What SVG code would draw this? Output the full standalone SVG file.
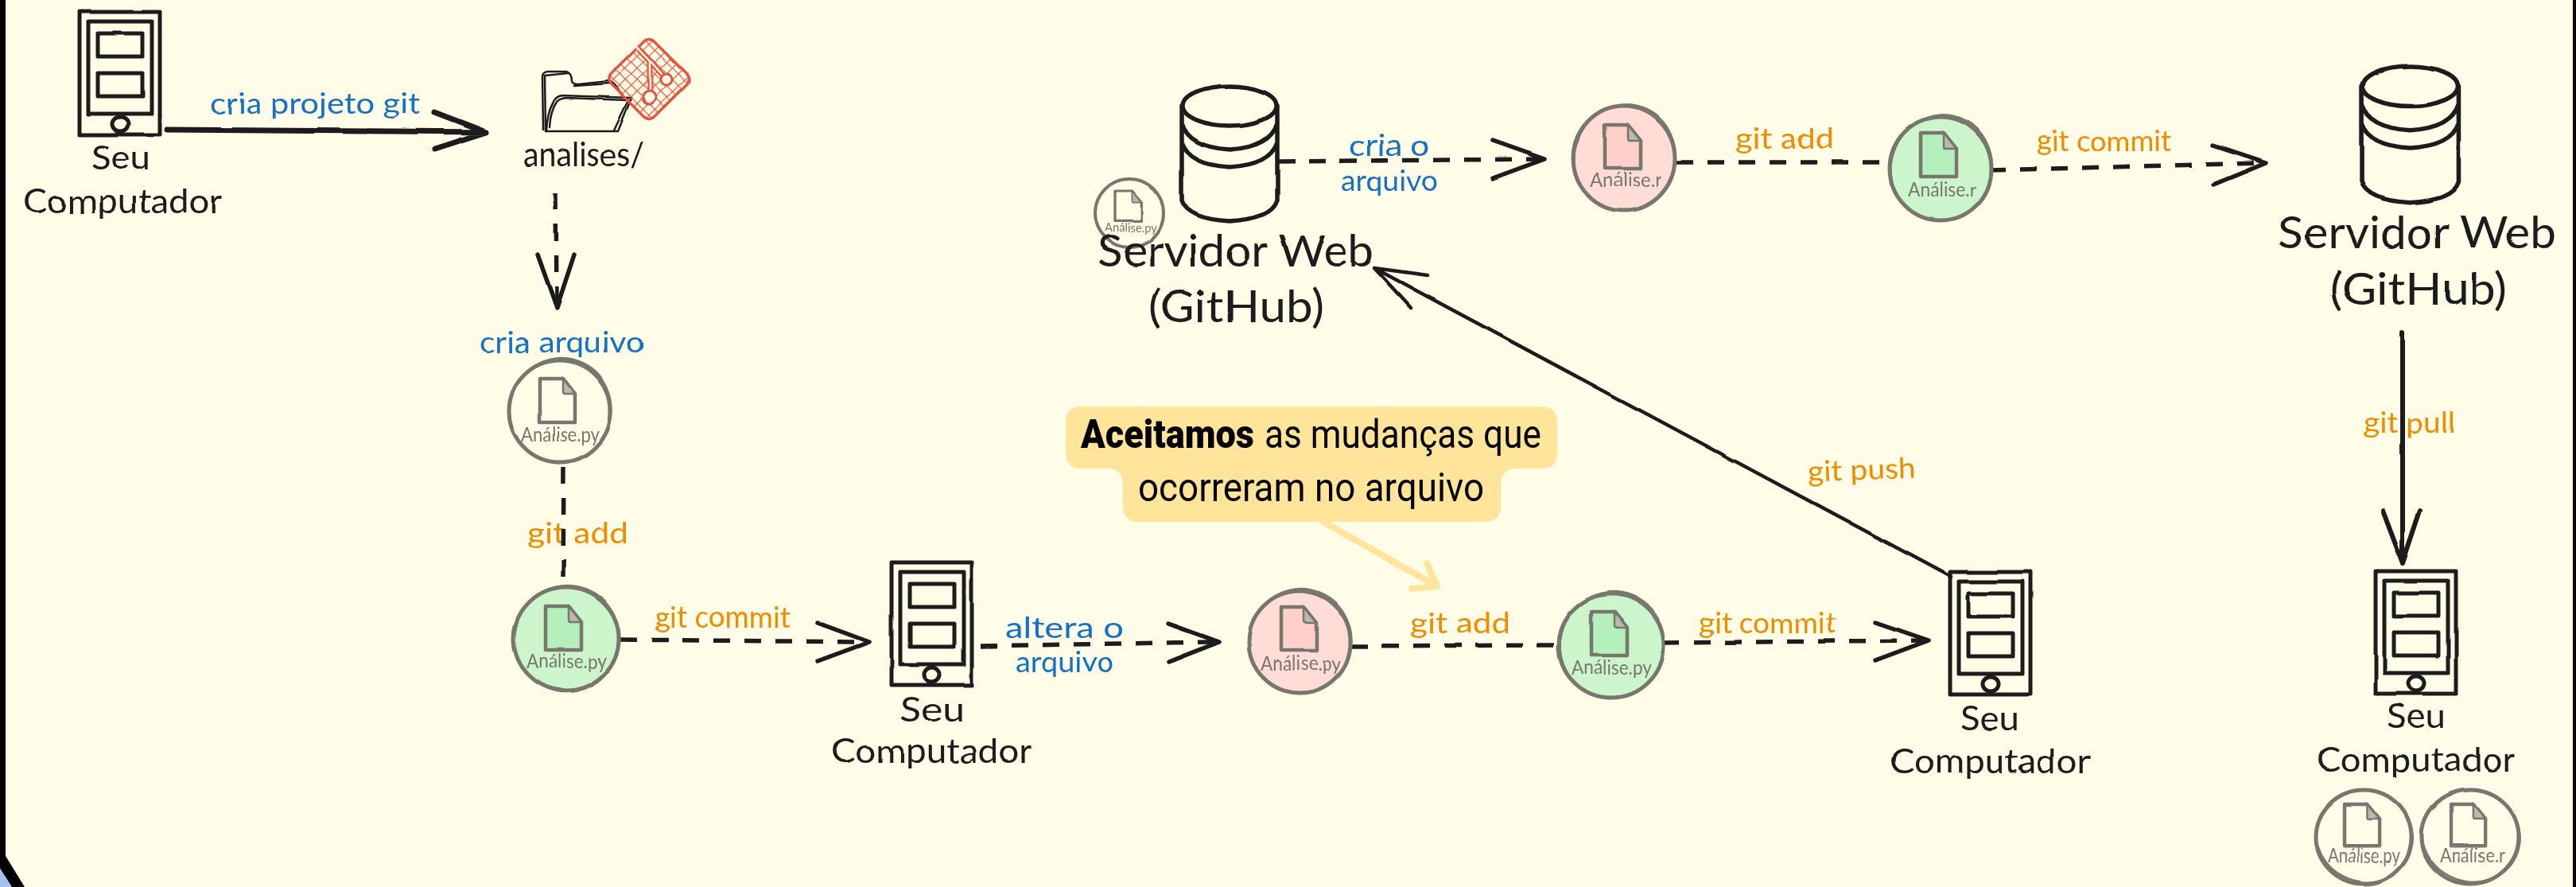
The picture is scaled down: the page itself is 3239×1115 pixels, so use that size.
<svg xmlns="http://www.w3.org/2000/svg" width="3239" height="1115" viewBox="0 0 3239 1115">
<style>
text{font-family:"Lato","Noto Sans",sans-serif}
.hand{fill:#1e1e1e;font-size:42px}
.big{fill:#1e1e1e;font-size:56px}
.blue{fill:#1971c2;font-size:36px}
.orange{fill:#f08c00;font-size:36px}
.fn{fill:#77776e;font-size:25px}
.note{font-family:"Roboto","Noto Sans",sans-serif;font-size:50px;fill:#000}
.ln{fill:none;stroke:#1e1e1e;stroke-linecap:round;stroke-linejoin:round}
.dash{stroke-width:5.5;stroke-dasharray:21 18;stroke-linecap:butt}
.head{stroke-width:5.5}
.ring{stroke:#77776e;stroke-width:5}
.ring2{fill:none;stroke:#77776e;stroke-width:2.5}
.gray{fill:none}
.green{fill:#cdf5cc}
.pink{fill:#ffdcd6}
.file{stroke:#77776e;stroke-width:4.5;stroke-linejoin:round}
.fnone{fill:none}
.fgreen{fill:#b5efbb}
.fpink{fill:#ffcfcc}
.fold{fill:#b9b9ae;stroke:#77776e;stroke-width:2.5}
.dev{fill:none;stroke:#1e1e1e;stroke-width:5;stroke-linejoin:round}
.db{fill:none;stroke:#1e1e1e;stroke-width:5.5;stroke-linecap:round;stroke-linejoin:round}
.folder{fill:none;stroke:#1e1e1e;stroke-width:2.5;stroke-linejoin:round;stroke-linecap:round}
</style>
<defs>
<filter id="sketch" filterUnits="userSpaceOnUse" x="0" y="0" width="3239" height="1115">
<feTurbulence type="fractalNoise" baseFrequency="0.015" numOctaves="2" seed="4" result="n"/>
<feDisplacementMap in="SourceGraphic" in2="n" scale="3" xChannelSelector="R" yChannelSelector="G" result="d"/>
<feGaussianBlur in="d" stdDeviation="0.7"/>
</filter>
<filter id="soft" filterUnits="userSpaceOnUse" x="0" y="0" width="3239" height="1115"><feGaussianBlur stdDeviation="0.6"/></filter>
<pattern id="grid" patternUnits="userSpaceOnUse" width="10.500" height="10.500"><path d="M10.500 0H0V10.500" fill="none" stroke="#e5533d" stroke-width="2.400"/></pattern>
<g id="computer">
<rect class="dev" x="0" y="0" width="101" height="154"/>
<rect class="dev" x="11" y="12" width="80" height="116"/>
<rect class="dev" x="23" y="27" width="56" height="29"/>
<rect class="dev" x="23" y="77" width="56" height="29"/>
<ellipse class="dev" cx="51" cy="141" rx="10" ry="9"/>
</g>
<g id="cyl">
<ellipse class="db" cx="61" cy="26" rx="59" ry="25"/>
<path class="db" d="M1 26V145Q8 168 61 171Q114 168 121 145V26M1 48Q10 78 61 81Q112 78 121 48M1 72Q10 100 61 103Q112 100 121 72"/>
</g>
<path id="filebody" d="M0 0H29L45 20V55H0Z"/>
<path id="filefold" d="M29 0L45 20H31Q29 20 29 17Z"/>
</defs>

<rect width="3239" height="1115" fill="#fffde8"/>
<rect x="0" y="0" width="7" height="1115" fill="#000"/>
<rect x="3235" y="0" width="4" height="1115" fill="#000"/>
<polygon points="0,1091 15,1115 0,1115" fill="#a5c0ee"/>
<polygon points="0,1076 7,1076 31,1115 15,1115 0,1091" fill="#000"/>

<g filter="url(#sketch)">
<g id="connectors">
<g id="c1">
<text class="blue" x="264" y="143" textLength="264" lengthAdjust="spacingAndGlyphs">cria projeto git</text>
<path class="ln" stroke-width="7" d="M210 163L611 166M546 141L611 166L546 187"/>
</g>
<g id="c2"><path class="ln dash" d="M699 243L700 380"/><path class="ln head" d="M676 320L700 387L722 320"/></g>
<g id="c3">
<text class="orange" x="663" y="683" textLength="127" lengthAdjust="spacingAndGlyphs">git add</text>
<path class="ln dash" d="M709 587L708 730"/>
</g>
<g id="c4">
<text class="orange" x="823" y="789" textLength="171" lengthAdjust="spacingAndGlyphs">git commit</text>
<path class="ln dash" d="M780 804L1085 807"/><path class="ln head" d="M1028 783L1093 807L1028 831"/>
</g>
<g id="c5">
<text class="blue" x="1264" y="802" textLength="149" lengthAdjust="spacingAndGlyphs">altera o</text>
<text class="blue" x="1277" y="845" textLength="124" lengthAdjust="spacingAndGlyphs">arquivo</text>
<path class="ln dash" d="M1233 812L1525 807"/><path class="ln head" d="M1469 784L1533 807L1469 832"/>
</g>
<g id="c6">
<text class="orange" x="1773" y="796" textLength="126" lengthAdjust="spacingAndGlyphs">git add</text>
<path class="ln dash" d="M1699 812L1960 811"/>
</g>
<g id="c7">
<text class="orange" x="2136" y="796" textLength="172" lengthAdjust="spacingAndGlyphs">git commit</text>
<path class="ln dash" d="M2091 808L2418 805"/><path class="ln head" d="M2358 782L2425 805L2358 830"/>
</g>
<g id="c8">
<text class="orange" x="2273" y="603" textLength="136" lengthAdjust="spacingAndGlyphs" transform="rotate(-2 2340 600)">git push</text>
<path class="ln" stroke-width="4.5" d="M2453 725L1728 337M1795 346L1728 337L1774 387"/>
</g>
<g id="c9">
<text class="blue" x="1696" y="196" textLength="101" lengthAdjust="spacingAndGlyphs">cria o</text>
<text class="blue" x="1686" y="240" textLength="122" lengthAdjust="spacingAndGlyphs">arquivo</text>
<path class="ln dash" d="M1607 203L1935 200"/><path class="ln head" d="M1877 177L1942 200L1877 224"/>
</g>
<g id="c10">
<text class="orange" x="2182" y="187" textLength="124" lengthAdjust="spacingAndGlyphs">git add</text>
<path class="ln dash" d="M2108 204L2374 204"/>
</g>
<g id="c11">
<text class="orange" x="2561" y="190" textLength="169" lengthAdjust="spacingAndGlyphs">git commit</text>
<path class="ln dash" d="M2501 214L2842 205"/><path class="ln head" d="M2783 183L2849 205L2783 232"/>
</g>
<g id="c12">
<text class="orange" x="2972" y="544" textLength="115" lengthAdjust="spacingAndGlyphs">git pull</text>
<path class="ln" stroke-width="6" d="M3021 418V708M2996 642L3021 708L3043 642"/>
</g>
<g id="c13">
<path fill="none" stroke="#ffe499" stroke-width="8" stroke-linecap="round" stroke-linejoin="round" d="M1664 656L1807 737M1794 708L1807 737L1775 740"/>
</g>
</g>

<g id="computer-1"><use href="#computer" x="100" y="15"/>
<text class="hand" x="115" y="213" textLength="74" lengthAdjust="spacingAndGlyphs">Seu</text>
<text class="hand" x="29" y="268" textLength="251" lengthAdjust="spacingAndGlyphs">Computador</text></g>

<g id="folder-analises">
<path class="folder" d="M683 163L682 97Q682 91 688 90L712 90Q719 92 719 102Q720 106 727 106L765 102Q772 103 780 117"/>
<path class="folder" d="M686 165L685 95L714 92M722 108L766 105"/>
<path class="folder" d="M687 165Q688 142 695 130Q698 121 707 120L794 123L777 165Z"/>
<path class="folder" d="M691 160Q692 140 700 128Q703 124 712 123L790 126L772 164"/>
<text class="hand" x="658" y="209" textLength="152" lengthAdjust="spacingAndGlyphs">analises/</text>
</g>

<g id="git-logo">
<g transform="translate(816 99.500) rotate(45)">
<rect x="-38" y="-38" width="76" height="76" rx="9" fill="url(#grid)" stroke="#e5533d" stroke-width="3.500"/>
</g>
<path fill="none" stroke="#e5533d" stroke-width="7" d="M803 62L817 77V123M818 77L838 100"/>
<path fill="none" stroke="#fffde8" stroke-width="2.500" d="M799 58L817 77V123M818 77L838 100"/>
<circle cx="816" cy="123" r="8" fill="#fffde8" stroke="#e5533d" stroke-width="3"/>
<circle cx="838" cy="100" r="7" fill="#fffde8" stroke="#e5533d" stroke-width="3"/>
</g>

<g id="file-1">
<ellipse class="ring gray" cx="704" cy="517" rx="64" ry="64"/><ellipse class="ring2" cx="705" cy="516" rx="64" ry="66" transform="rotate(20 705 516)"/>
<g transform="translate(678 476)"><use href="#filebody" class="file fnone"/><use href="#filefold" class="fold"/></g>
<text class="fn" x="655" y="555" textLength="99" lengthAdjust="spacingAndGlyphs">Análise.py</text>
<text class="blue" x="603" y="443" textLength="207" lengthAdjust="spacingAndGlyphs">cria arquivo</text>
</g>
<g id="file-2">
<ellipse class="ring green" cx="712" cy="803" rx="66" ry="65"/><ellipse class="ring2" cx="713" cy="803" rx="66" ry="67" transform="rotate(20 713 803)"/>
<g transform="translate(686 762)"><use href="#filebody" class="file fgreen"/><use href="#filefold" class="fold"/></g>
<text class="fn" x="662" y="840" textLength="101" lengthAdjust="spacingAndGlyphs">Análise.py</text>
</g>
<g id="computer-2"><use href="#computer" x="1121" y="707"/>
<text class="hand" x="1132" y="907" textLength="81" lengthAdjust="spacingAndGlyphs">Seu</text>
<text class="hand" x="1045" y="959" textLength="253" lengthAdjust="spacingAndGlyphs">Computador</text></g>
<g id="file-3">
<ellipse class="ring pink" cx="1634" cy="807" rx="64" ry="64"/><ellipse class="ring2" cx="1635" cy="806" rx="64" ry="66" transform="rotate(20 1635 806)"/>
<g transform="translate(1611 763)"><use href="#filebody" class="file fpink"/><use href="#filefold" class="fold"/></g>
<text class="fn" x="1585" y="843" textLength="101" lengthAdjust="spacingAndGlyphs">Análise.py</text>
</g>
<g id="file-4">
<ellipse class="ring green" cx="2026" cy="812" rx="66" ry="65"/><ellipse class="ring2" cx="2027" cy="811" rx="65" ry="67" transform="rotate(20 2027 811)"/>
<g transform="translate(2001 769)"><use href="#filebody" class="file fgreen"/><use href="#filefold" class="fold"/></g>
<text class="fn" x="1976" y="848" textLength="101" lengthAdjust="spacingAndGlyphs">Análise.py</text>
</g>
<g id="computer-3"><use href="#computer" x="2452" y="719"/>
<text class="hand" x="2465" y="918" textLength="74" lengthAdjust="spacingAndGlyphs">Seu</text>
<text class="hand" x="2377" y="972" textLength="251" lengthAdjust="spacingAndGlyphs">Computador</text></g>

<g id="server-1"><use href="#cyl" x="1485" y="107"/>
<ellipse class="ring gray" style="stroke-width:4" cx="1420" cy="268" rx="43" ry="43"/>
<g transform="translate(1402 240) scale(.74 .68)"><use href="#filebody" class="file fnone"/><use href="#filefold" class="fold"/></g>
<text class="fn" style="font-size:15px" x="1389" y="291" textLength="66" lengthAdjust="spacingAndGlyphs">Análise.py</text>
<text class="big" x="1380" y="335" textLength="348" lengthAdjust="spacingAndGlyphs">Servidor Web</text>
<text class="big" x="1444" y="405" textLength="221" lengthAdjust="spacingAndGlyphs">(GitHub)</text></g>
<g id="file-5">
<ellipse class="ring pink" cx="2042" cy="199" rx="64" ry="66"/><ellipse class="ring2" cx="2043" cy="198" rx="63" ry="67" transform="rotate(20 2043 198)"/>
<g transform="translate(2018 157)"><use href="#filebody" class="file fpink"/><use href="#filefold" class="fold"/></g>
<text class="fn" x="1999" y="235" textLength="90" lengthAdjust="spacingAndGlyphs">Análise.r</text>
</g>
<g id="file-6">
<ellipse class="ring green" cx="2440" cy="212" rx="64" ry="65"/><ellipse class="ring2" cx="2441" cy="211" rx="63" ry="67" transform="rotate(20 2441 211)"/>
<g transform="translate(2415 167)"><use href="#filebody" class="file fgreen"/><use href="#filefold" class="fold"/></g>
<text class="fn" x="2399" y="247" textLength="86" lengthAdjust="spacingAndGlyphs">Análise.r</text>
</g>
<g id="server-2"><use href="#cyl" transform="translate(2968 82) scale(1.02 1.01)"/>
<text class="big" x="2865" y="312" textLength="349" lengthAdjust="spacingAndGlyphs">Servidor Web</text>
<text class="big" x="2929" y="383" textLength="223" lengthAdjust="spacingAndGlyphs">(GitHub)</text></g>
<g id="computer-4"><use href="#computer" x="2987" y="718"/>
<text class="hand" x="3001" y="915" textLength="74" lengthAdjust="spacingAndGlyphs">Seu</text>
<text class="hand" x="2913" y="970" textLength="250" lengthAdjust="spacingAndGlyphs">Computador</text></g>
<g id="file-7">
<ellipse class="ring gray" cx="2972" cy="1052" rx="60" ry="59"/><ellipse class="ring2" cx="2973" cy="1051" rx="61" ry="57" transform="rotate(20 2973 1051)"/>
<g transform="translate(2948 1011) scale(.98 .95)"><use href="#filebody" class="file fnone"/><use href="#filefold" class="fold"/></g>
<text class="fn" x="2927" y="1084" textLength="91" lengthAdjust="spacingAndGlyphs">Análise.py</text>
</g>
<g id="file-8">
<ellipse class="ring gray" cx="3106" cy="1052" rx="61" ry="59"/><ellipse class="ring2" cx="3107" cy="1051" rx="62" ry="57" transform="rotate(20 3107 1051)"/>
<g transform="translate(3082 1011) scale(.96 .95)"><use href="#filebody" class="file fnone"/><use href="#filefold" class="fold"/></g>
<text class="fn" x="3068" y="1084" textLength="82" lengthAdjust="spacingAndGlyphs">Análise.r</text>
</g>
</g>

<g id="callout" filter="url(#soft)">
<path fill="#ffe499" d="M1360 511H1938Q1958 511 1958 531V569Q1958 589 1938 589H1907Q1887 589 1887 609V636Q1887 656 1867 656H1432Q1412 656 1412 636V609Q1412 589 1392 589H1360Q1340 589 1340 569V531Q1340 511 1360 511Z"/>
<text class="note" font-weight="900" x="1359" y="563" textLength="218" lengthAdjust="spacingAndGlyphs">Aceitamos</text>
<text class="note" x="1590" y="563" textLength="348" lengthAdjust="spacingAndGlyphs">as mudanças que</text>
<text class="note" x="1431" y="630" textLength="435" lengthAdjust="spacingAndGlyphs">ocorreram no arquivo</text>
</g>
</svg>
